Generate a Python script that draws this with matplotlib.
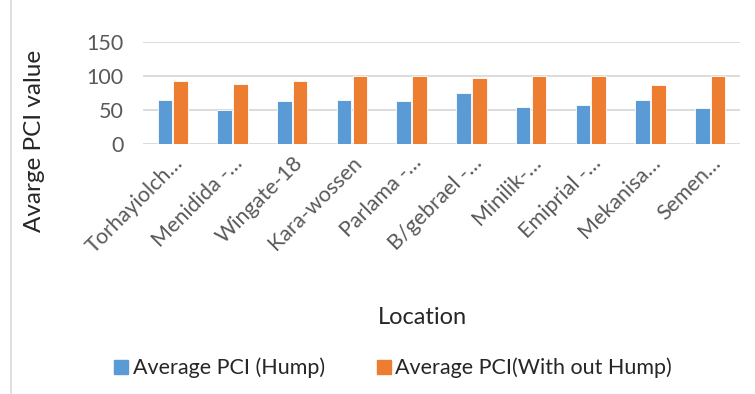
import matplotlib
matplotlib.use("Agg")
import matplotlib.pyplot as plt
import numpy as np
from matplotlib.patches import Rectangle
from matplotlib.lines import Line2D

locations = ["Torhayiolch\u2026", "Menidida -\u2026", "Wingate-18", "Kara-wossen",
             "Parlama -\u2026", "B/gebrael -\u2026", "Minilik-\u2026", "Emiprial -\u2026",
             "Mekanisa\u2026", "Semen\u2026"]
pci_hump = [65, 50, 64, 65, 63, 76, 55, 58, 65, 53]
pci_no_hump = [93, 88, 93, 100, 100, 97, 100, 100, 87, 100]
y_ticks = [0, 50, 100, 150]

blue = "#5B9BD5"
orange = "#ED7D31"
grid_c = "#D9D9D9"
text_c = "#595959"

plt.rcParams["font.family"] = ["Lato", "DejaVu Sans"]

W, H = 755, 394
fig = plt.figure(figsize=(W / 100, H / 100), dpi=100)
ax = fig.add_axes([143 / W, 1 - 144.3 / H, (740 - 143) / W, (144.3 - 42.3) / H])

x = np.arange(len(locations))
bw = 0.245
ax.bar(x - bw / 2 - 0.01, pci_hump, bw, color=blue, edgecolor="white", linewidth=0.6, zorder=3,
       label="Average PCI (Hump)")
ax.bar(x + bw / 2 + 0.01, pci_no_hump, bw, color=orange, edgecolor="white", linewidth=0.6, zorder=3,
       label="Average PCI(With out Hump)")

ax.set_xlim(-0.5, len(locations) - 0.5)
ax.set_ylim(0, 150)
ax.set_yticks(y_ticks)
ax.yaxis.grid(True, color=grid_c, linewidth=1.3, zorder=0)
for s in ax.spines.values():
    s.set_visible(False)
ax.tick_params(axis="both", length=0, colors=text_c, labelsize=15.5)
ax.tick_params(axis="y", pad=14)
ax.set_xticks(x)
ax.set_xticklabels(locations, rotation=45, ha="right", va="top", rotation_mode="anchor")
ax.tick_params(axis="x", pad=6)

fig.text(35 / W, 1 - 141 / H, "Avarge PCI value", rotation=90, ha="center", va="center",
         fontsize=17.5, color="#262626")
fig.text(422 / W, 1 - 318 / H, "Location", ha="center", va="center", fontsize=17, color="#262626")

handles = [Rectangle((0, 0), 1, 1, color=blue), Rectangle((0, 0), 1, 1, color=orange)]
fig.legend(handles, ["Average PCI (Hump)", "Average PCI(With out Hump)"], loc="center",
           bbox_to_anchor=(393 / W, 1 - 368 / H), ncol=2, frameon=False, fontsize=15.5,
           handlelength=0.65, handleheight=0.65, handletextpad=0.2, columnspacing=2.4,
           labelcolor="#262626")

fig.add_artist(Line2D([10.5 / W, 10.5 / W], [0, 1], color="#D9D9D9", linewidth=1.2))

fig.savefig("out.png", dpi=100)
